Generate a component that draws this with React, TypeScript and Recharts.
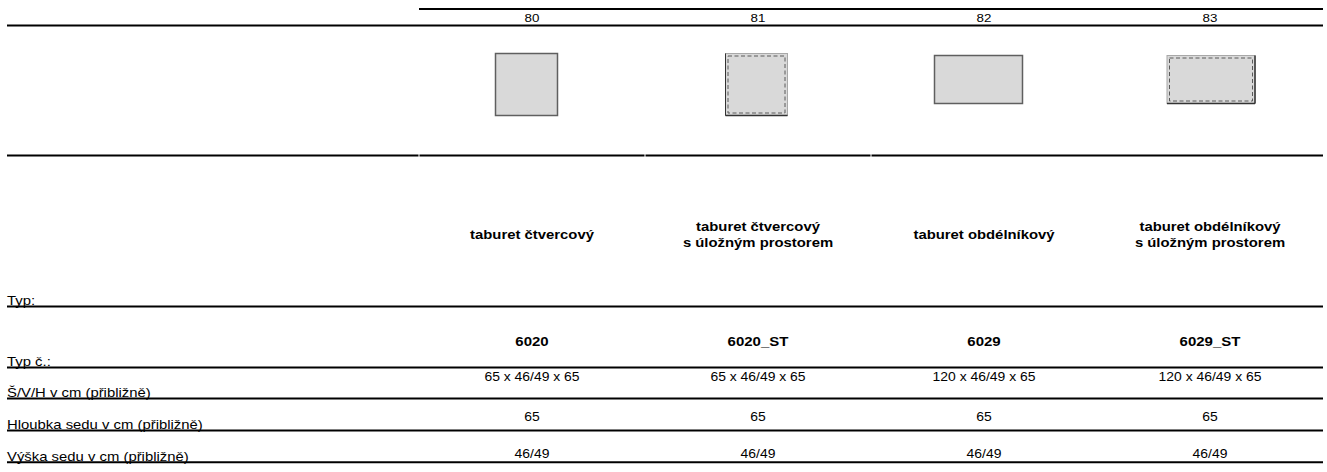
import React from "react";
import { ScatterChart, Scatter, XAxis, YAxis, ReferenceLine } from "recharts";

// ---------- data ----------
const columnNumbers = ["80", "81", "82", "83"];
const typeNames = [
  ["taburet čtvercový"],
  ["taburet čtvercový", "s úložným prostorem"],
  ["taburet obdélníkový"],
  ["taburet obdélníkový", "s úložným prostorem"],
];
const typeCodes = ["6020", "6020_ST", "6029", "6029_ST"];
const dimensions = ["65 x 46/49 x 65", "65 x 46/49 x 65", "120 x 46/49 x 65", "120 x 46/49 x 65"];
const seatDepths = ["65", "65", "65", "65"];
const seatHeights = ["46/49", "46/49", "46/49", "46/49"];
const iconShapes = ["square", "square", "rectangle", "rectangle"];
const storageFlags = [false, true, false, true];
const rowLabels = [
  "Typ:",
  "Typ č.:",
  "Š/V/H v cm (přibližně)",
  "Hloubka sedu v cm (přibližně)",
  "Výška sedu v cm (přibližně)",
];

// ---------- layout ----------
const W = 1327;
const H = 472;
const COL_PX = 226;
const FIRST_CENTER = 532;
const X_MIN = -FIRST_CENTER / COL_PX;
const X_MAX = X_MIN + W / COL_PX;
const pxToX = (px: number) => X_MIN + px / COL_PX;
const TABLE_LEFT = pxToX(7);
const TABLE_RIGHT = 3.5;
const GAP = 0.5 / COL_PX;

const ROW = { header: 18, icon: 82, name: 234.5, code: 341.7, dims: 376.7, depth: 416.7, height: 454.3 };
const RULE = { top: 9, header: 25.5, icons: 155.5, typ: 306.5, code: 367.5, dims: 398.5, depth: 430.5, height: 462.3 };
const LABEL_BASE = [RULE.typ, RULE.code, RULE.dims, RULE.depth, RULE.height].map((y) => y - 1.5);

const FONT = "'Liberation Sans', Arial, Helvetica, sans-serif";
const STRETCH = 1.16;

const idx = [0, 1, 2, 3];
const rowData = (values: any[], y: number) => values.map((v, i) => ({ x: idx[i], y, value: v }));

const headerData = rowData(columnNumbers, ROW.header);
const iconData = idx.map((i) => ({ x: i, y: ROW.icon, shape: iconShapes[i], storage: storageFlags[i] }));
const nameData = rowData(typeNames, ROW.name);
const codeData = rowData(typeCodes, ROW.code);
const dimData = rowData(dimensions, ROW.dims);
const depthData = rowData(seatDepths, ROW.depth);
const heightData = rowData(seatHeights, ROW.height);
const labelData = rowLabels.map((t, i) => ({ x: TABLE_LEFT, y: LABEL_BASE[i], value: t }));

// ---------- shapes ----------
const centeredText =
  (size: number, weight: string | number = "normal", sx = STRETCH) =>
  (props: any) => {
    const { cx, cy, payload } = props;
    return (
      <text
        transform={`translate(${cx},${cy}) scale(${sx},1)`}
        x={0}
        y={0}
        textAnchor="middle"
        dominantBaseline="central"
        fontFamily={FONT}
        fontSize={size}
        fontWeight={weight}
        fill="#000"
      >
        {payload.value}
      </text>
    );
  };

const nameShape = (props: any) => {
  const { cx, cy, payload } = props;
  const lines: string[] = payload.value;
  const lh = 15.7;
  const start = -((lines.length - 1) * lh) / 2;
  return (
    <text
      transform={`translate(${cx},${cy}) scale(1.19,1)`}
      textAnchor="middle"
      dominantBaseline="central"
      fontFamily={FONT}
      fontSize={12.5}
      fontWeight="bold"
      fill="#000"
    >
      {lines.map((l, i) => (
        <tspan key={i} x={0} y={start + i * lh}>
          {l}
        </tspan>
      ))}
    </text>
  );
};

const labelShape = (props: any) => {
  const { cx, cy, payload } = props;
  return (
    <text
      transform={`translate(${cx},${cy}) scale(1.24,1)`}
      x={0}
      y={0}
      textAnchor="start"
      fontFamily={FONT}
      fontSize={12}
      fill="#000"
    >
      {payload.value}
    </text>
  );
};

const iconShape = (props: any) => {
  const { cx, cy, payload } = props;
  const isSquare = payload.shape === "square";
  const w = isSquare ? 62 : 88;
  const h = isSquare ? 62 : 48;
  const dx = payload.storage ? (isSquare ? -1.5 : 1) : -5.5;
  const dy = isSquare ? 2.5 : -2.5;
  const x = cx + dx - w / 2;
  const y = cy + dy - h / 2;
  if (!payload.storage) {
    return (
      <g>
        <rect x={x} y={y} width={w} height={h} fill="#d9d9d9" stroke="#5f5f5f" strokeWidth={1.5} />
      </g>
    );
  }
  return (
    <g>
      <rect x={x} y={y} width={w} height={h} fill="#d9d9d9" stroke="#a8a8a8" strokeWidth={1} />
      <rect
        x={x + 2.5}
        y={y + 2.5}
        width={w - 5}
        height={h - 5}
        fill="none"
        stroke="#5a5a5a"
        strokeWidth={1}
        strokeDasharray="4 2.5"
      />
      <line x1={x} y1={y + h} x2={x + w} y2={y + h} stroke="#333" strokeWidth={1.5} />
      {isSquare ? (
        <line x1={x} y1={y} x2={x} y2={y + h} stroke="#333" strokeWidth={1} />
      ) : (
        <line x1={x + w} y1={y} x2={x + w} y2={y + h} stroke="#333" strokeWidth={1.5} />
      )}
    </g>
  );
};

// ---------- rules ----------
const fullRules = [RULE.header, RULE.typ, RULE.code, RULE.dims, RULE.depth, RULE.height];
const iconRuleSegments: [number, number][] = [
  [TABLE_LEFT, -0.5 - GAP],
  [-0.5 + GAP, 0.5 - GAP],
  [0.5 + GAP, 1.5 - GAP],
  [1.5 + GAP, TABLE_RIGHT],
];

export default function App() {
  return (
    <div style={{ position: "absolute", left: 0, top: 0, width: W, height: H, background: "#fff" }}>
      <ScatterChart width={W} height={H} margin={{ top: 0, right: 0, bottom: 0, left: 0 }}>
        <XAxis type="number" dataKey="x" domain={[X_MIN, X_MAX]} allowDataOverflow hide />
        <YAxis type="number" dataKey="y" domain={[0, H]} reversed allowDataOverflow hide />

        <ReferenceLine
          segment={[
            { x: -0.5, y: RULE.top },
            { x: TABLE_RIGHT, y: RULE.top },
          ]}
          stroke="#000"
          strokeWidth={2}
          ifOverflow="visible"
        />
        {fullRules.map((y) => (
          <ReferenceLine
            key={y}
            segment={[
              { x: TABLE_LEFT, y },
              { x: TABLE_RIGHT, y },
            ]}
            stroke="#000"
            strokeWidth={2}
            ifOverflow="visible"
          />
        ))}
        {iconRuleSegments.map(([a, b], i) => (
          <ReferenceLine
            key={"s" + i}
            segment={[
              { x: a, y: RULE.icons },
              { x: b, y: RULE.icons },
            ]}
            stroke="#000"
            strokeWidth={2}
            ifOverflow="visible"
          />
        ))}

        <Scatter data={headerData} shape={centeredText(11.5)} isAnimationActive={false} />
        <Scatter data={iconData} shape={iconShape} isAnimationActive={false} />
        <Scatter data={nameData} shape={nameShape} isAnimationActive={false} />
        <Scatter data={codeData} shape={centeredText(12.5, "bold", 1.2)} isAnimationActive={false} />
        <Scatter data={dimData} shape={centeredText(12)} isAnimationActive={false} />
        <Scatter data={depthData} shape={centeredText(12)} isAnimationActive={false} />
        <Scatter data={heightData} shape={centeredText(12)} isAnimationActive={false} />
        <Scatter data={labelData} shape={labelShape} isAnimationActive={false} />
      </ScatterChart>
    </div>
  );
}
